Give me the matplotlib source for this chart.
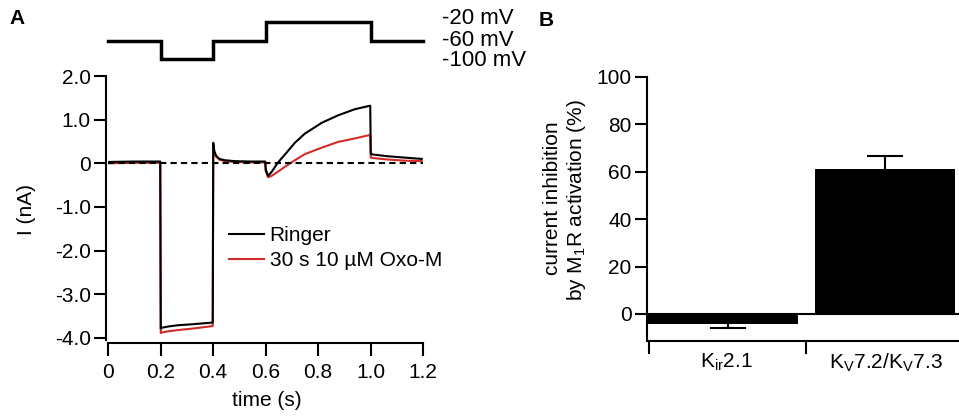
import matplotlib
matplotlib.use("Agg")
import matplotlib.pyplot as plt

plt.rcParams["font.family"] = ["Liberation Sans", "DejaVu Sans"]
plt.rcParams["mathtext.fontset"] = "custom"
plt.rcParams["mathtext.rm"] = "Liberation Sans"
plt.rcParams["mathtext.it"] = "Liberation Sans:italic"
plt.rcParams["mathtext.default"] = "regular"

# ---------------- data: panel A ----------------
time_s = [0.000, 0.100, 0.199, 0.201, 0.205, 0.230, 0.270, 0.320, 0.399,
          0.401, 0.405, 0.412, 0.425, 0.445, 0.480, 0.540, 0.599,
          0.601, 0.610, 0.623, 0.648, 0.674, 0.712, 0.750, 0.815, 0.877,
          0.941, 0.999, 1.001, 1.010, 1.067, 1.130, 1.195]
ringer_nA = [0.03, 0.04, 0.04, -3.79, -3.77, -3.74, -3.71, -3.69, -3.65,
             0.47, 0.28, 0.17, 0.10, 0.07, 0.05, 0.04, 0.04,
             -0.15, -0.29, -0.20, 0.02, 0.20, 0.47, 0.68, 0.93, 1.10,
             1.24, 1.32, 0.22, 0.20, 0.16, 0.13, 0.10]
oxo_nA = [0.00, 0.01, 0.01, -3.89, -3.88, -3.85, -3.82, -3.79, -3.73,
          0.40, 0.25, 0.15, 0.08, 0.05, 0.03, 0.02, 0.02,
          -0.18, -0.32, -0.29, -0.19, -0.08, 0.07, 0.21, 0.36, 0.49,
          0.57, 0.65, 0.13, 0.12, 0.085, 0.06, 0.05]

step_edges_s = [0.0, 0.2, 0.4, 0.6, 1.0, 1.2]
step_levels_mV = [-60, -100, -60, -20, -60]
level_labels = ["-20 mV", "-60 mV", "-100 mV"]

xtick_vals = [0, 0.2, 0.4, 0.6, 0.8, 1.0, 1.2]
xtick_labels = ["0", "0.2", "0.4", "0.6", "0.8", "1.0", "1.2"]
ytick_vals = [2, 1, 0, -1, -2, -3, -4]
ytick_labels = ["2.0", "1.0", "0", "-1.0", "-2.0", "-3.0", "-4.0"]
series_names = ["Ringer", "30 s 10 \u00b5M Oxo-M"]

# ---------------- data: panel B ----------------
channels = ["K$_{ir}$2.1", "K$_V$7.2/K$_V$7.3"]
inhibition_pct = [-4.3, 61.0]
sem_pct = [1.7, 5.8]
ybar_ticks = [0, 20, 40, 60, 80, 100]

W, H = 959, 418
fig = plt.figure(figsize=(W / 100, H / 100), dpi=100)

def fx(px):
    return px / W

def fy(py):
    return 1 - py / H

FS = 15
RED = "#d42a2a"

# ---------------- panel A traces ----------------
axA = fig.add_axes([fx(108), fy(340), 315 / W, 264 / H])
l_oxo, = axA.plot(time_s, oxo_nA, color=RED, lw=1.5, zorder=2)
l_ring, = axA.plot(time_s, ringer_nA, color="black", lw=1.5, zorder=3)
axA.plot([xtick_vals[0], xtick_vals[-1]], [0, 0], color="black", lw=1.5,
         dashes=(3, 2), zorder=4)
axA.set_xlim(0, 1.2)
axA.set_ylim(-4.05, 2.0)
for s in ["top", "right"]:
    axA.spines[s].set_visible(False)
axA.spines["left"].set_position(("outward", 1.5))
axA.spines["bottom"].set_position(("outward", 2.5))
for s in ["left", "bottom"]:
    axA.spines[s].set_linewidth(1.5)
axA.set_xticks(xtick_vals)
axA.set_xticklabels(xtick_labels)
axA.set_yticks(ytick_vals)
axA.set_yticklabels(ytick_labels)
axA.tick_params(axis="both", direction="out", length=9, width=1.5, labelsize=FS)
axA.tick_params(axis="y", pad=2)
axA.tick_params(axis="x", pad=5)
axA.legend([l_ring, l_oxo], series_names, loc="upper left", frameon=False, fontsize=FS,
           handlelength=1.7, handletextpad=0.25, labelspacing=0.3,
           borderpad=0, borderaxespad=0,
           bbox_to_anchor=(fx(229), fy(226)), bbox_transform=fig.transFigure)
fig.text(fx(27), fy(210), "I (nA)", rotation=90, ha="center", va="center", fontsize=FS)
fig.text(fx(267), fy(400), "time (s)", ha="center", va="center", fontsize=FS)

# ---------------- panel A protocol ----------------
axP = fig.add_axes([fx(108), fy(59), 315 / W, 37 / H])
axP.plot(step_edges_s, step_levels_mV + [step_levels_mV[-1]], drawstyle="steps-post",
         color="black", lw=2.5, clip_on=False, solid_joinstyle="miter")
axP.set_xlim(0, 1.2)
axP.set_ylim(-100, -20)
axP.axis("off")
for lab, py in zip(level_labels, [19, 40, 61]):
    fig.text(fx(442), fy(py), lab, ha="left", va="center", fontsize=16)

fig.text(fx(9), fy(19), "A", fontsize=FS, fontweight="bold", ha="left", va="center")
fig.text(fx(539), fy(20), "B", fontsize=FS, fontweight="bold", ha="left", va="center")

# ---------------- panel B ----------------
unit = 157.0
axB = fig.add_axes([fx(647), fy(341), 312 / W, 264 / H])
axB.set_xlim((647 - 649) / unit, (959 - 649) / unit)
axB.set_ylim(-11.4, 100)
bar_centers = [0.474, 1.503]
bar_widths = [0.955, 0.89]
axB.bar(bar_centers, inhibition_pct, width=bar_widths, color="black", zorder=2)
err_x = [0.5, 1.503]
for xi, val, err in zip(err_x, inhibition_pct, sem_pct):
    if val < 0:
        yerr = [[err], [0]]
    else:
        yerr = [[0], [err]]
    _, caps, _ = axB.errorbar([xi], [val], yerr=yerr, fmt="none", ecolor="black",
                              elinewidth=1.5, capsize=13, capthick=1.5, zorder=1)
    for c in caps:
        if abs(c.get_ydata()[0] - val) < 1e-9:
            c.remove()
axB.axhline(0, color="black", lw=1.5, zorder=3)
for s in ["top", "right"]:
    axB.spines[s].set_visible(False)
for s in ["left", "bottom"]:
    axB.spines[s].set_linewidth(1.5)
axB.set_yticks(ybar_ticks)
axB.set_yticklabels([str(v) for v in ybar_ticks])
axB.set_xticks([0, 1])
axB.set_xticklabels(["", ""])
axB.set_xticks([0.49, 1.51], minor=True)
axB.set_xticklabels(channels, minor=True)
axB.tick_params(axis="both", which="major", direction="out", length=9, width=1.5,
                labelsize=FS)
axB.tick_params(axis="y", pad=2)
axB.tick_params(axis="x", which="minor", length=0, pad=8, labelsize=FS)
fig.text(fx(553), fy(198), "current inhibition", rotation=90, ha="center",
         va="center", fontsize=FS)
fig.text(fx(576), fy(200), "by M$_1$R activation (%)", rotation=90, ha="center",
         va="center", fontsize=FS)

fig.savefig("out.png", dpi=100)
